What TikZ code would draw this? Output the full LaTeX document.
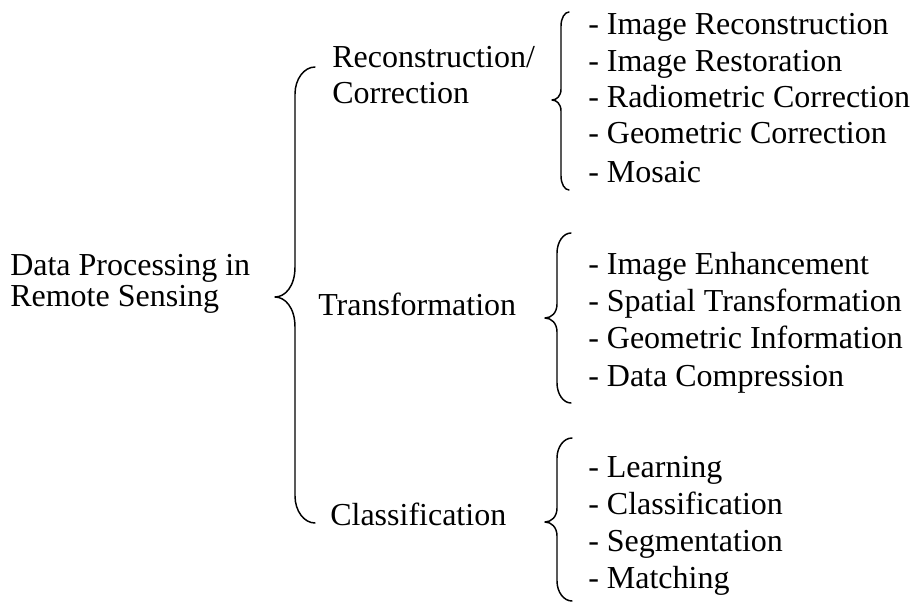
\documentclass[tikz,border=0pt]{standalone}
\usepackage{fontspec}
\setmainfont{Liberation Serif}

% curly brace opening to the right:
% #1 end x, #2 spine x, #3 tip x, #4 top y, #5 tip y, #6 bottom y,
% #7 height of the end hooks, #8 height of each half of the tip bend
\newcommand{\openbrace}[8]{%
  \draw[bracestroke]
    (#1,#4) .. controls ({#2+0.45*(#1-#2)},#4) and (#2,{#4+0.45*#7}) .. (#2,{#4+#7})
    -- (#2,{#5-#8})
    .. controls (#2,{#5-0.35*#8}) and ({#3+0.5*(#2-#3)},#5) .. (#3,#5)
    .. controls ({#3+0.5*(#2-#3)},#5) and (#2,{#5+0.35*#8}) .. (#2,{#5+#8})
    -- (#2,{#6-#7})
    .. controls (#2,{#6-0.45*#7}) and ({#2+0.45*(#1-#2)},#6) .. (#1,#6);}

\tikzset{
  lbl/.style={anchor=base west, inner sep=0pt, font=\fontsize{24}{29}\selectfont},
  bracestroke/.style={line width=1.1pt, line cap=round, line join=round}
}

\begin{document}
\begin{tikzpicture}[x=0.75pt,y=-0.75pt]
\useasboundingbox (0,0) rectangle (912,603);

% root
\node[lbl] (root1) at (10,275) {Data Processing in};
\node[lbl] (root2) at (10,306) {Remote Sensing};

% main brace
\openbrace{315}{295}{275}{67}{297}{523}{27}{30}

% categories
\node[lbl] (rec1) at (332,67) {Reconstruction/};
\node[lbl] (rec2) at (332,103) {Correction};
\node[lbl] (trans) at (318,315) {Transformation};
\node[lbl] (cls) at (330,525) {Classification};

% braces for sub-lists
\openbrace{569}{561}{552}{12}{100}{190}{14}{11}
\openbrace{571}{557}{545}{233}{318}{403}{20}{14}
\openbrace{572}{557}{545}{438}{522}{601}{20}{14}

% list 1
\node[lbl] (a1) at (588,34)  {- Image Reconstruction};
\node[lbl] (a2) at (588,71)  {- Image Restoration};
\node[lbl] (a3) at (588,107) {- Radiometric Correction};
\node[lbl] (a4) at (588,143) {- Geometric Correction};
\node[lbl] (a5) at (588,182) {- Mosaic};

% list 2
\node[lbl] (b1) at (588,274) {- Image Enhancement};
\node[lbl] (b2) at (588,311) {- Spatial Transformation};
\node[lbl] (b3) at (588,348) {- Geometric Information};
\node[lbl] (b4) at (588,386) {- Data Compression};

% list 3
\node[lbl] (c1) at (588,477) {- Learning};
\node[lbl] (c2) at (588,514) {- Classification};
\node[lbl] (c3) at (588,551) {- Segmentation};
\node[lbl] (c4) at (588,588) {- Matching};
\end{tikzpicture}
\end{document}
